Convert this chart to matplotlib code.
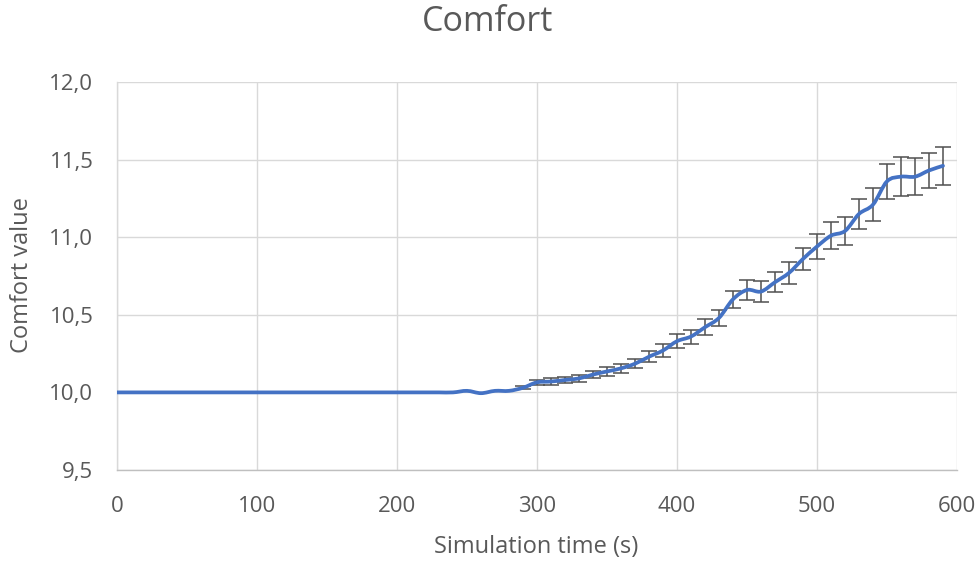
import numpy as np
import matplotlib
matplotlib.use("Agg")
import matplotlib.pyplot as plt
from matplotlib.path import Path
from matplotlib.patches import PathPatch
from matplotlib.ticker import FuncFormatter

# simulation time (s), one sample every 10 s
time_s = list(range(0, 600, 10))

# mean comfort value at each time step
comfort = [10.0] * 25 + [
    10.01, 9.995, 10.01, 10.01, 10.03,      # 250 - 290
    10.065, 10.07, 10.08, 10.09, 10.115,    # 300 - 340
    10.135, 10.155, 10.185, 10.23, 10.27,   # 350 - 390
    10.33, 10.36, 10.42, 10.48, 10.60,      # 400 - 440
    10.66, 10.65, 10.71, 10.77, 10.86,      # 450 - 490
    10.94, 11.01, 11.04, 11.15, 11.21,      # 500 - 540
    11.36, 11.39, 11.39, 11.43, 11.46,      # 550 - 590
]

# error bar half widths
comfort_err = [0.0] * 29 + [
    0.01,                                   # 290
    0.015, 0.02, 0.02, 0.02, 0.025,         # 300 - 340
    0.028, 0.03, 0.03, 0.035, 0.04,         # 350 - 390
    0.047, 0.045, 0.05, 0.054, 0.055,       # 400 - 440
    0.062, 0.066, 0.065, 0.07, 0.07,        # 450 - 490
    0.08, 0.086, 0.09, 0.097, 0.107,        # 500 - 540
    0.112, 0.125, 0.118, 0.113, 0.123,      # 550 - 590
]

x_ticks = [0, 100, 200, 300, 400, 500, 600]
y_ticks = [9.5, 10.0, 10.5, 11.0, 11.5, 12.0]

LINE_COLOR = "#4472C4"
TEXT_COLOR = "#595959"
GRID_COLOR = "#d9d9d9"
ERR_COLOR = "#505050"

plt.rcParams['font.family'] = ['Open Sans', 'DejaVu Sans']


def smooth_path(xs, ys):
    # excel-like smoothed line: bezier segments through every data point
    pts = np.column_stack([xs, ys]).astype(float)
    verts = [pts[0]]
    codes = [Path.MOVETO]
    n = len(pts)
    for i in range(n - 1):
        p0 = pts[max(i - 1, 0)]
        p1 = pts[i]
        p2 = pts[i + 1]
        p3 = pts[min(i + 2, n - 1)]
        verts += [p1 + (p2 - p0) / 6, p2 - (p3 - p1) / 6, p2]
        codes += [Path.CURVE4] * 3
    return Path(verts, codes)


fig = plt.figure(figsize=(9.78, 5.63), dpi=100)
ax = fig.add_axes([117 / 978, 1 - 470 / 563, 840 / 978, 388 / 563])

t = np.array(time_s)
c = np.array(comfort)
e = np.array(comfort_err)
has_err = e > 0

ax.errorbar(t[has_err], c[has_err], yerr=e[has_err], fmt="none",
            ecolor=ERR_COLOR, elinewidth=1.1, capsize=5.5, capthick=1.1, zorder=3)
ax.add_patch(PathPatch(smooth_path(t, c), facecolor="none", edgecolor=LINE_COLOR,
                       lw=2.7, joinstyle="round", capstyle="round", zorder=4))

ax.set_xlim(0, 600)
ax.set_ylim(9.5, 12.0)
ax.set_xticks(x_ticks)
ax.set_yticks(y_ticks)
ax.yaxis.set_major_formatter(FuncFormatter(lambda v, p: f"{v:.1f}".replace(".", ",")))

ax.grid(True, color=GRID_COLOR, lw=1.0)
ax.set_axisbelow(True)
for side in ["top", "right"]:
    ax.spines[side].set_visible(False)
ax.spines["left"].set_color(GRID_COLOR)
ax.spines["bottom"].set_color("#bfbfbf")
ax.spines["left"].set_linewidth(1.0)
ax.spines["bottom"].set_linewidth(1.0)

ax.tick_params(length=0, labelsize=16, labelcolor=TEXT_COLOR)
ax.tick_params(axis="x", pad=19)
ax.tick_params(axis="y", pad=17)

fig.text(0.499, 1 - 22 / 563, "Comfort", ha="center", va="center",
         fontsize=24.5, color=TEXT_COLOR)
fig.text(536 / 978, 1 - 547 / 563, "Simulation time (s)", ha="center", va="center",
         fontsize=17, color=TEXT_COLOR)
fig.text(22 / 978, 1 - 275 / 563, "Comfort value", ha="center", va="center",
         rotation=90, fontsize=17, color=TEXT_COLOR)

fig.savefig("out.png", dpi=100, facecolor="white")
